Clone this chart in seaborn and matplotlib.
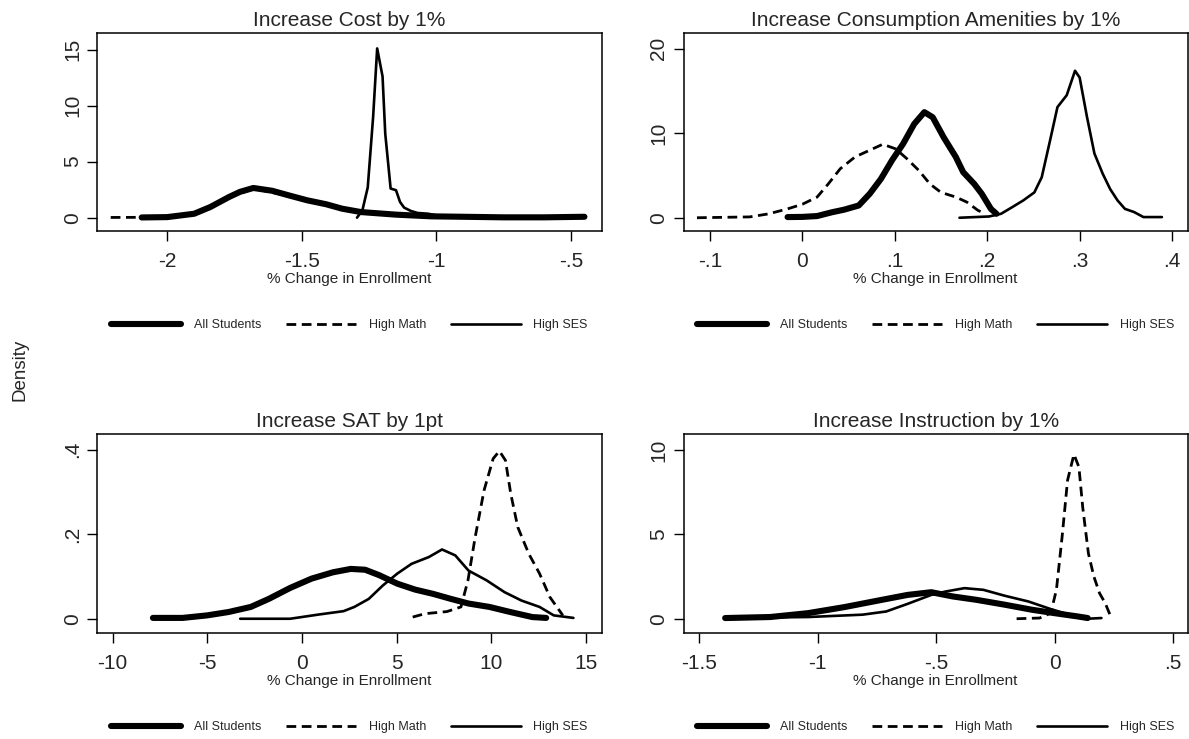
import numpy as np
import pandas as pd
import matplotlib
matplotlib.use("Agg")
import matplotlib.pyplot as plt
import seaborn as sns

# values (kernel density curves)
# --- Increase Cost by 1% ---
cost_all_x = [-2.095, -2.0, -1.90, -1.84, -1.77, -1.73, -1.68, -1.61, -1.55, -1.48, -1.41,
              -1.35, -1.28, -1.15, -1.02, -0.90, -0.75, -0.60, -0.45]
cost_all_y = [0.02, 0.05, 0.35, 0.95, 1.85, 2.3, 2.65, 2.4, 2.0, 1.55, 1.2,
              0.8, 0.5, 0.27, 0.12, 0.08, 0.03, 0.03, 0.08]
cost_math_x = [-2.21, -2.1, -2.0, -1.90, -1.84, -1.77, -1.68, -1.55, -1.41, -1.28, -1.15,
               -1.02, -0.80, -0.60, -0.46]
cost_math_y = [0.02, 0.03, 0.05, 0.33, 0.9, 1.8, 2.6, 1.95, 1.15, 0.5, 0.25,
               0.1, 0.04, 0.03, 0.05]
cost_ses_x = [-1.295, -1.275, -1.255, -1.235, -1.22, -1.20, -1.19, -1.17, -1.15, -1.135,
              -1.12, -1.095, -1.07, -1.03, -1.0, -0.9, -0.8]
cost_ses_y = [0.0, 0.65, 2.7, 9.0, 15.1, 12.6, 7.5, 2.6, 2.45, 1.4,
              0.9, 0.6, 0.42, 0.35, 0.2, 0.1, 0.05]

# --- Increase Consumption Amenities by 1% ---
amen_all_x = [-0.016, 0.0, 0.016, 0.032, 0.045, 0.061, 0.073, 0.085, 0.097, 0.109, 0.121,
              0.132, 0.141, 0.153, 0.166, 0.174, 0.186, 0.194, 0.204, 0.21]
amen_all_y = [0.08, 0.1, 0.2, 0.65, 0.95, 1.45, 2.85, 4.6, 6.8, 8.75, 11.1,
              12.5, 11.9, 9.5, 7.2, 5.4, 4.0, 2.85, 1.05, 0.47]
amen_math_x = [-0.114, -0.057, -0.037, -0.016, 0.0, 0.016, 0.028, 0.041, 0.057, 0.073,
               0.087, 0.101, 0.113, 0.126, 0.138, 0.15, 0.166, 0.178, 0.19, 0.198]
amen_math_y = [0.0, 0.1, 0.45, 1.05, 1.6, 2.45, 4.0, 5.8, 7.2, 8.0,
               8.7, 8.15, 7.0, 5.6, 4.0, 3.0, 2.45, 1.85, 0.87, 0.47]
amen_ses_x = [0.17, 0.202, 0.215, 0.227, 0.239, 0.251, 0.259, 0.268, 0.276, 0.286, 0.295,
              0.3, 0.308, 0.316, 0.325, 0.333, 0.341, 0.349, 0.359, 0.369, 0.389]
amen_ses_y = [0.0, 0.15, 0.47, 1.25, 2.05, 3.0, 4.8, 9.15, 13.1, 14.5, 17.4,
              16.6, 11.9, 7.6, 5.2, 3.4, 2.05, 1.05, 0.67, 0.08, 0.08]

# --- Increase SAT by 1pt ---
sat_all_x = [-7.87, -6.3, -5.0, -3.87, -2.7, -1.75, -0.62, 0.51, 1.64, 2.58, 3.34, 4.09,
             5.04, 5.98, 6.92, 7.87, 8.8, 9.9, 11.0, 12.17, 12.9]
sat_all_y = [0.002, 0.002, 0.008, 0.016, 0.028, 0.047, 0.073, 0.095, 0.11, 0.118, 0.116, 0.103,
             0.083, 0.069, 0.059, 0.047, 0.036, 0.028, 0.016, 0.004, 0.002]
sat_math_x = [5.85, 6.5, 7.66, 8.4, 8.77, 9.15, 9.62, 10.1, 10.43, 10.75, 11.03, 11.4,
              11.98, 12.55, 13.1, 13.78]
sat_math_y = [0.004, 0.012, 0.017, 0.028, 0.091, 0.193, 0.304, 0.379, 0.397, 0.375, 0.296, 0.217,
              0.154, 0.107, 0.051, 0.008]
sat_ses_x = [-3.26, -0.62, 0.89, 2.2, 2.77, 3.53, 4.28, 5.04, 5.79, 6.7, 7.4, 8.1,
             8.8, 9.75, 10.7, 11.6, 12.55, 13.3, 14.34]
sat_ses_y = [0.0, 0.0, 0.01, 0.018, 0.028, 0.047, 0.079, 0.107, 0.13, 0.146, 0.164, 0.15,
             0.114, 0.091, 0.063, 0.043, 0.028, 0.008, 0.002]

# --- Increase Instruction by 1% ---
ins_all_x = [-1.39, -1.2, -1.04, -0.886, -0.728, -0.62, -0.52, -0.43, -0.33, -0.21,
             -0.095, 0.0, 0.095, 0.14]
ins_all_y = [0.04, 0.1, 0.33, 0.69, 1.12, 1.41, 1.57, 1.32, 1.12, 0.83,
             0.53, 0.33, 0.14, 0.04]
ins_math_x = [-0.16, -0.063, -0.016, 0.008, 0.032, 0.055, 0.082, 0.103, 0.119, 0.143,
              0.166, 0.19, 0.214, 0.238]
ins_math_y = [0.0, 0.04, 0.33, 1.71, 4.85, 8.2, 9.73, 8.98, 6.6, 3.87,
              2.5, 1.51, 0.92, 0.1]
ins_ses_x = [-1.39, -1.04, -0.81, -0.71, -0.62, -0.52, -0.46, -0.38, -0.3, -0.21,
             -0.11, -0.016, 0.063, 0.14, 0.198]
ins_ses_y = [0.04, 0.1, 0.24, 0.43, 0.88, 1.41, 1.61, 1.81, 1.71, 1.36,
             1.02, 0.57, 0.24, 0.0, 0.04]

titles = ["Increase Cost by 1%", "Increase Consumption Amenities by 1%",
          "Increase SAT by 1pt", "Increase Instruction by 1%"]
xticks = [[-2, -1.5, -1, -0.5], [-0.1, 0, 0.1, 0.2, 0.3, 0.4],
          [-10, -5, 0, 5, 10, 15], [-1.5, -1, -0.5, 0, 0.5]]
xticklabels = [["-2", "-1.5", "-1", "-.5"], ["-.1", "0", ".1", ".2", ".3", ".4"],
               ["-10", "-5", "0", "5", "10", "15"], ["-1.5", "-1", "-.5", "0", ".5"]]
yticks = [[0, 5, 10, 15], [0, 10, 20], [0, 0.2, 0.4], [0, 5, 10]]
yticklabels = [["0", "5", "10", "15"], ["0", "10", "20"], ["0", ".2", ".4"], ["0", "5", "10"]]
xlims = [(-2.26, -0.386), (-0.1284, 0.4169), (-10.81, 15.83), (-1.565, 0.562)]
ylims = [(-1.19, 16.5), (-1.57, 21.9), (-0.0331, 0.437), (-0.83, 10.93)]

series = [
    [(cost_all_x, cost_all_y), (cost_math_x, cost_math_y), (cost_ses_x, cost_ses_y)],
    [(amen_all_x, amen_all_y), (amen_math_x, amen_math_y), (amen_ses_x, amen_ses_y)],
    [(sat_all_x, sat_all_y), (sat_math_x, sat_math_y), (sat_ses_x, sat_ses_y)],
    [(ins_all_x, ins_all_y), (ins_math_x, ins_math_y), (ins_ses_x, ins_ses_y)],
]
labels = ["All Students", "High Math", "High SES"]

sns.set_theme(style="ticks")
plt.rcParams['font.family'] = ['Liberation Sans', 'DejaVu Sans']

fig = plt.figure(figsize=(11.89, 7.39), dpi=100)
positions = [[0.0818, 0.6874, 0.4242, 0.2683], [0.575, 0.6874, 0.4239, 0.2683],
             [0.0818, 0.1438, 0.4242, 0.2687], [0.575, 0.1438, 0.4239, 0.2687]]

for i in range(4):
    ax = fig.add_axes(positions[i])
    (ax_x, ax_y), (m_x, m_y), (s_x, s_y) = series[i]
    # draw order: high SES, high math, then all students on top
    sns.lineplot(x=s_x, y=s_y, ax=ax, color="black", linewidth=1.9, label=labels[2])
    sns.lineplot(x=m_x, y=m_y, ax=ax, color="black", linewidth=2.0, linestyle="--", label=labels[1])
    ax.lines[-1].set_dashes([3.5, 2])
    sns.lineplot(x=ax_x, y=ax_y, ax=ax, color="black", linewidth=4.4, label=labels[0])

    ax.set_xlim(xlims[i])
    ax.set_ylim(ylims[i])
    ax.set_xticks(xticks[i])
    ax.set_xticklabels(xticklabels[i])
    ax.set_yticks(yticks[i])
    ax.set_yticklabels(yticklabels[i], rotation=90, va="center")
    ax.tick_params(axis="both", length=7, width=1, labelsize=15, color="black")
    ax.tick_params(axis="x", pad=8)
    ax.tick_params(axis="y", pad=4)
    for sp in ax.spines.values():
        sp.set_visible(True)
        sp.set_linewidth(1.1)
        sp.set_color("black")
    ax.set_title(titles[i], fontsize=15, pad=5)
    ax.set_xlabel("% Change in Enrollment", fontsize=11, labelpad=1)
    ax.set_ylabel("")

    handles, labs = ax.get_legend_handles_labels()
    order = [2, 1, 0]
    ax.legend([handles[k] for k in order], [labs[k] for k in order],
              loc="center", bbox_to_anchor=(0.5, -0.475), ncol=3, frameon=False,
              fontsize=9, handlelength=5.6, handletextpad=1.0, columnspacing=2.0)

fig.text(0.017, 0.5, "Density", rotation=90, va="center", ha="center", fontsize=13.5)

fig.savefig("out.png", dpi=100)
